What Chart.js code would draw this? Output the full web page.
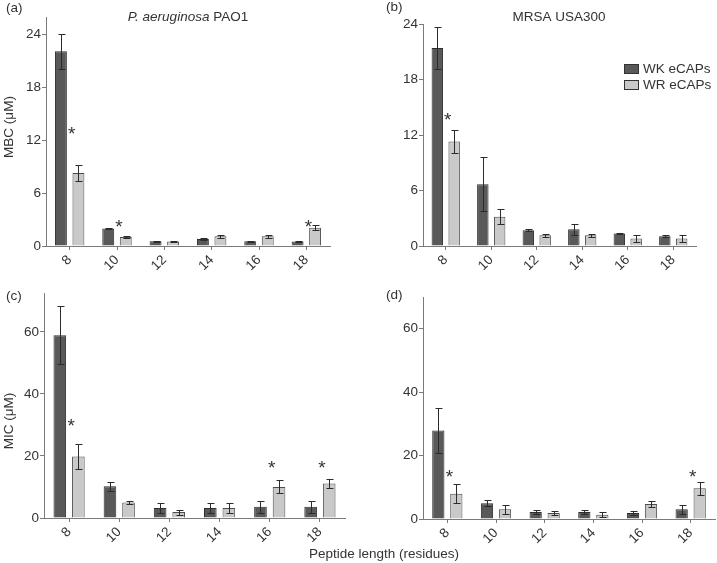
<!DOCTYPE html>
<html>
<head>
<meta charset="utf-8">
<script src="https://cdn.jsdelivr.net/npm/chart.js@4.4.1/dist/chart.umd.min.js"></script>
<style>
  body { margin: 0; background: #fff; }
  #wrap { position: relative; width: 717px; height: 563px; font-family: 'Liberation Sans', Arial, sans-serif; color: #333; }
  #wrap canvas { position: absolute; }
  #xtitle { position: absolute; left: 284px; width: 200px; top: 546px; text-align: center; font-size: 13.5px; line-height: 16px; }
</style>
</head>
<body>
<div id="wrap">
  <canvas id="pa" width="360" height="280" style="left:0;top:0"></canvas>
  <canvas id="pb" width="357" height="280" style="left:360px;top:0"></canvas>
  <canvas id="pc" width="360" height="283" style="left:0;top:280px"></canvas>
  <canvas id="pd" width="357" height="283" style="left:360px;top:280px"></canvas>
  <div id="xtitle">Peptide length (residues)</div>
</div>
<script>
/* Peptide length vs MBC / MIC, WK vs WR eCAPs */
var lengths     = ['8', '10', '12', '14', '16', '18'];
var seriesNames = ['WK eCAPs', 'WR eCAPs'];

/* (a) MBC, P. aeruginosa PAO1 */
var mbcPaWK     = [22.1, 2.0, 0.55, 0.8, 0.55, 0.5];
var mbcPaWKErr  = [2.0, 0.1, 0.05, 0.1, 0.05, 0.05];
var mbcPaWR     = [8.3, 1.03, 0.5, 1.1, 1.1, 2.07];
var mbcPaWRErr  = [0.9, 0.15, 0.1, 0.2, 0.2, 0.3];
var mbcPaStars  = ['8', '10', '18'];
var mbcPaStarY  = [13.2, 2.6, 2.6];

/* (b) MBC, MRSA USA300 */
var mbcMrWK     = [21.4, 6.67, 1.7, 1.8, 1.35, 1.05];
var mbcMrWKErr  = [2.3, 2.9, 0.1, 0.6, 0.1, 0.1];
var mbcMrWR     = [11.3, 3.15, 1.16, 1.15, 0.8, 0.8];
var mbcMrWRErr  = [1.2, 0.8, 0.15, 0.15, 0.4, 0.35];
var mbcMrStars  = ['8'];
var mbcMrStarY  = [14.1];

/* (c) MIC, P. aeruginosa PAO1 */
var micPaWK     = [58.9, 10.2, 3.2, 3.2, 3.6, 3.6];
var micPaWKErr  = [9.4, 1.5, 1.6, 1.5, 2.0, 2.0];
var micPaWR     = [19.8, 5.0, 1.9, 3.2, 10.0, 11.1];
var micPaWRErr  = [4.0, 0.6, 0.8, 1.5, 2.1, 1.4];
var micPaStars  = ['8', '16', '18'];
var micPaStarY  = [31, 17.5, 17.5];

/* (d) MIC, MRSA USA300 */
var micMrWK     = [27.9, 5.0, 2.2, 2.2, 1.9, 3.1];
var micMrWKErr  = [7.0, 0.9, 0.6, 0.5, 0.6, 1.4];
var micMrWR     = [8.0, 3.1, 1.9, 1.35, 4.7, 9.7];
var micMrWRErr  = [3.0, 1.4, 0.5, 0.8, 1.0, 2.1];
var micMrStars  = ['8', '18'];
var micMrStarY  = [14.6, 14.6];

var FONT = "'Liberation Sans', Arial, sans-serif";
var TXT  = '#333';
var AXIS = '#7a7a7a';
var DARK = '#595959', LIGHT = '#c9c9c9';

/* Draws error bars, asterisks, panel letter, titles, y label and legend */
var panelDecor = {
    id: 'panelDecor',
    afterDatasetsDraw: function(chart) {
        var o = chart.options.plugins.panelDecor;
        var ctx = chart.ctx, y = chart.scales.y, x = chart.scales.x;
        ctx.save();

        // error bars
        ctx.strokeStyle = '#2b2b2b';
        ctx.lineWidth = 1;
        o.err.forEach(function(errs, di) {
            var meta = chart.getDatasetMeta(di);
            var vals = chart.data.datasets[di].data;
            meta.data.forEach(function(bar, i) {
                var bx = Math.round(bar.x) + 0.5;
                var top = Math.round(y.getPixelForValue(vals[i] + errs[i])) + 0.5;
                var bot = Math.round(y.getPixelForValue(vals[i] - errs[i])) + 0.5;
                ctx.beginPath();
                ctx.moveTo(bx, top); ctx.lineTo(bx, bot);
                ctx.moveTo(bx - 3, top); ctx.lineTo(bx + 4, top);
                ctx.moveTo(bx - 3, bot); ctx.lineTo(bx + 4, bot);
                ctx.stroke();
            });
        });

        // significance asterisks
        ctx.fillStyle = TXT;
        ctx.font = '19px ' + FONT;
        ctx.textAlign = 'center';
        ctx.textBaseline = 'alphabetic';
        o.stars.forEach(function(lab, k) {
            var px = x.getPixelForValue(lengths.indexOf(lab)) + 2;
            var py = y.getPixelForValue(o.starY[k]) + 10;
            ctx.fillText('*', px, py);
        });

        // panel letter
        ctx.font = '13.5px ' + FONT;
        ctx.textAlign = 'left';
        ctx.textBaseline = 'middle';
        ctx.fillText(o.letter, o.letterPos[0], o.letterPos[1]);

        // title (italic species part + plain strain)
        if (o.title) {
            var it = o.title[0], pl = o.title[1];
            ctx.font = 'italic 13.5px ' + FONT;
            var w1 = ctx.measureText(it).width;
            ctx.font = '13.5px ' + FONT;
            var w2 = ctx.measureText(pl).width;
            var sx = o.titlePos[0] - (w1 + w2) / 2;
            ctx.font = 'italic 13.5px ' + FONT;
            ctx.fillText(it, sx, o.titlePos[1]);
            ctx.font = '13.5px ' + FONT;
            ctx.fillText(pl, sx + w1, o.titlePos[1]);
        }

        // rotated y label
        if (o.yLabel) {
            ctx.save();
            ctx.translate(o.yLabelPos[0], o.yLabelPos[1]);
            ctx.rotate(-Math.PI / 2);
            ctx.textAlign = 'center';
            ctx.fillText(o.yLabel, 0, 0);
            ctx.restore();
        }

        // legend
        if (o.legendPos) {
            var lx = o.legendPos[0], ly = o.legendPos[1];
            chart.data.datasets.forEach(function(ds, di) {
                var by = ly + di * 16;
                ctx.fillStyle = ds.backgroundColor;
                ctx.fillRect(lx, by, 15, 10);
                ctx.strokeStyle = '#333';
                ctx.strokeRect(lx + 0.5, by + 0.5, 14, 9);
                ctx.fillStyle = TXT;
                ctx.textAlign = 'left';
                ctx.fillText(ds.label, lx + 19, by + 5.5);
            });
        }
        ctx.restore();
    }
};

function makePanel(id, p) {
    var el = document.getElementById(id);
    var W = el.width, H = el.height, a = p.area;
    return new Chart(el, {
        type: 'bar',
        data: {
            labels: lengths,
            datasets: [
                { label: seriesNames[0], data: p.wk, backgroundColor: DARK,  borderColor: '#2e2e2e', borderWidth: 1 },
                { label: seriesNames[1], data: p.wr, backgroundColor: LIGHT, borderColor: '#4d4d4d', borderWidth: 1 }
            ]
        },
        options: {
            responsive: false,
            animation: false,
            layout: { padding: { left: 0, top: a.t, right: W - a.r, bottom: 0 } },
            datasets: { bar: { categoryPercentage: 0.74, barPercentage: 0.68 } },
            plugins: {
                legend: { display: false },
                tooltip: { enabled: false },
                panelDecor: p
            },
            scales: {
                x: {
                    grid: { offset: false, drawOnChartArea: false, tickLength: 4, color: AXIS },
                    border: { color: AXIS },
                    ticks: { minRotation: 45, maxRotation: 45, padding: 2, color: TXT, font: { family: FONT, size: 13.5 } },
                    afterFit: function(s) { s.height = H - a.b; }
                },
                y: {
                    min: 0, max: p.max, bounds: 'data',
                    grid: { drawOnChartArea: false, tickLength: 4, color: AXIS },
                    border: { color: AXIS },
                    ticks: { stepSize: p.step, padding: 1, color: TXT, font: { family: FONT, size: 13.5 } },
                    // keep only the round steps, drop the extra tick at the axis top
                    afterBuildTicks: function(s) {
                        s.ticks = s.ticks.filter(function(t) { return t.value % p.step === 0; });
                    },
                    afterFit: function(s) { s.width = a.l; }
                }
            }
        },
        plugins: [panelDecor]
    });
}

makePanel('pa', {
    wk: mbcPaWK, wr: mbcPaWR, err: [mbcPaWKErr, mbcPaWRErr],
    stars: mbcPaStars, starY: mbcPaStarY,
    max: 26, step: 6, area: { l: 46, r: 330, t: 17, b: 246 },
    letter: '(a)', letterPos: [6, 8],
    title: ['P. aeruginosa', ' PAO1'], titlePos: [188, 17],
    yLabel: 'MBC (\u03bcM)', yLabelPos: [9, 127]
});
makePanel('pb', {
    wk: mbcMrWK, wr: mbcMrWR, err: [mbcMrWKErr, mbcMrWRErr],
    stars: mbcMrStars, starY: mbcMrStarY,
    max: 24, step: 6, area: { l: 63, r: 336, t: 24, b: 246 },
    letter: '(b)', letterPos: [26, 7],
    title: ['', 'MRSA USA300'], titlePos: [199, 17],
    legendPos: [264, 64]
});
makePanel('pc', {
    wk: micPaWK, wr: micPaWR, err: [micPaWKErr, micPaWRErr],
    stars: micPaStars, starY: micPaStarY,
    max: 72.5, step: 20, area: { l: 44, r: 345, t: 13, b: 238 },
    letter: '(c)', letterPos: [6, 16],
    yLabel: 'MIC (\u03bcM)', yLabelPos: [9, 141]
});
makePanel('pd', {
    wk: micMrWK, wr: micMrWR, err: [micMrWKErr, micMrWRErr],
    stars: micMrStars, starY: micMrStarY,
    max: 70, step: 20, area: { l: 63, r: 355, t: 17, b: 239 },
    letter: '(d)', letterPos: [26, 15]
});
</script>
</body>
</html>
